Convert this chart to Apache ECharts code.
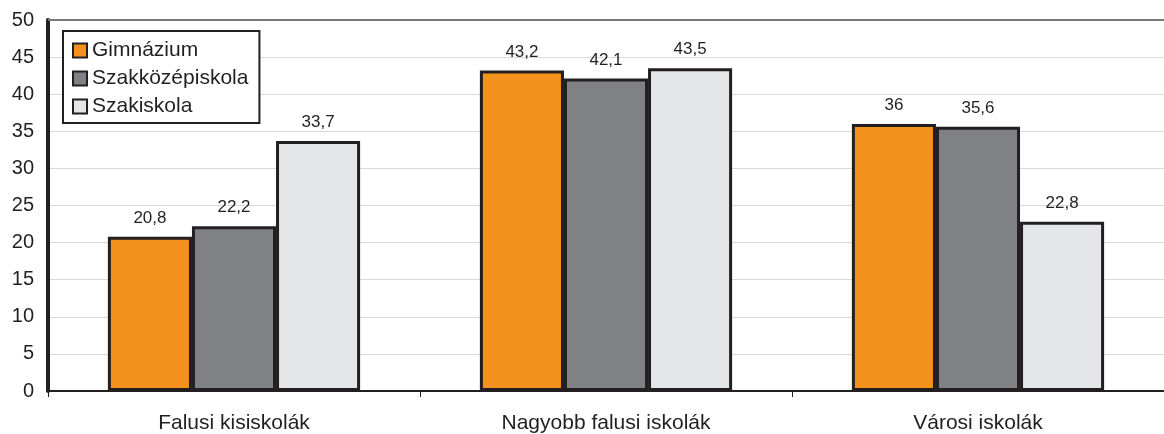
<!DOCTYPE html>
<html>
<head>
<meta charset="utf-8">
<script src="https://cdn.jsdelivr.net/npm/echarts@6/dist/echarts.min.js"></script>
<style>
  html, body { margin: 0; padding: 0; background: #ffffff; }
  #chart { width: 1164px; height: 434px; }
</style>
</head>
<body>
<div id="chart"></div>
<script>
// Iskolatípusok szerinti megoszlás (%)
const categories = ['Falusi kisiskolák', 'Nagyobb falusi iskolák', 'Városi iskolák'];
const seriesNames = ['Gimnázium', 'Szakközépiskola', 'Szakiskola'];
const gimnazium = [20.8, 43.2, 36];
const szakkozep = [22.2, 42.1, 35.6];
const szakiskola = [33.7, 43.5, 22.8];
const yTicks = [0, 5, 10, 15, 20, 25, 30, 35, 40, 45, 50];

const colors = ['#f5921e', '#808184', '#e5e6e8'];
const edge = '#231f20';
const font = '"Liberation Sans", Arial, Helvetica, sans-serif';

const values = [gimnazium, szakkozep, szakiskola];

const chart = echarts.init(document.getElementById('chart'), null, { renderer: 'canvas' });

const series = seriesNames.map((name, i) => ({
  name: name,
  type: 'bar',
  data: values[i],
  barWidth: '22.6%',
  barGap: '0%',
  itemStyle: { color: colors[i], borderColor: edge, borderWidth: 3 },
  label: {
    show: true,
    position: 'top',
    distance: 10,
    color: '#231f20',
    fontFamily: font,
    fontSize: 17,
    formatter: p => String(p.value).replace('.', ',')
  }
}));

chart.setOption({
  animation: false,
  backgroundColor: '#ffffff',
  grid: { left: 48, top: 20, width: 1124, height: 375, containLabel: false },
  legend: {
    data: seriesNames,
    orient: 'vertical',
    left: 63,
    top: 31,
    padding: [9, 11, 6, 9],
    itemGap: 7,
    itemWidth: 14,
    itemHeight: 14,
    borderColor: edge,
    borderWidth: 2,
    backgroundColor: '#ffffff',
    icon: 'rect',
    textStyle: { fontFamily: font, fontSize: 21, color: '#231f20' },
    itemStyle: { borderColor: edge, borderWidth: 2 }
  },
  xAxis: {
    type: 'category',
    data: categories,
    axisLine: { show: true, lineStyle: { color: '#231f20', width: 2 } },
    axisTick: { show: true, length: 6, lineStyle: { color: '#231f20', width: 1 } },
    axisLabel: { fontFamily: font, fontSize: 21, color: '#231f20', margin: 22 }
  },
  yAxis: {
    type: 'value',
    min: yTicks[0],
    max: yTicks[yTicks.length - 1],
    interval: 5,
    axisLine: { show: true, lineStyle: { color: '#231f20', width: 4 } },
    axisTick: { show: false },
    axisLabel: { fontFamily: font, fontSize: 20, color: '#231f20', margin: 14 },
    splitLine: {
      show: true,
      lineStyle: { color: '#d9d9d9', width: 1 }
    }
  },
  series: series
});

// grey frame line along the top of the plot area
const topY = chart.convertToPixel({ yAxisIndex: 0 }, yTicks[yTicks.length - 1]);
chart.setOption({
  graphic: [{
    type: 'line',
    shape: { x1: 48, y1: topY, x2: 1164, y2: topY },
    style: { stroke: '#777777', lineWidth: 2 },
    z: 5
  }]
});
</script>
</body>
</html>
